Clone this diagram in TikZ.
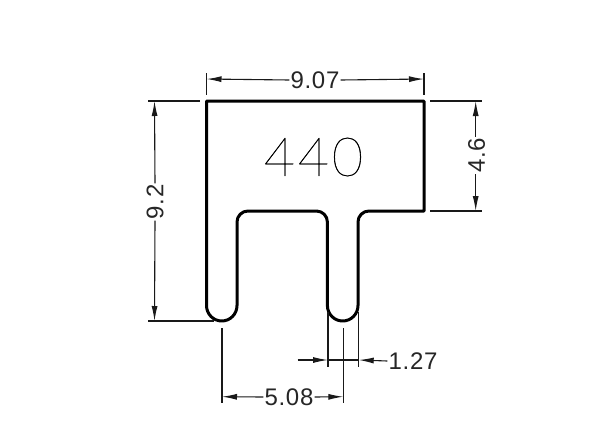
\documentclass[tikz,border=0pt]{standalone}
\usepackage{fontspec}
\setmainfont{Liberation Sans}
\newfontfamily\thinf[LetterSpace=5,FakeBold=0.6]{Lato Hairline}
\usetikzlibrary{arrows.meta}
\tikzset{
  profile/.style={draw=black,line width=3pt,line join=round},
  thinline/.style={draw=black!90,line width=1.1pt},
  dimline/.style={thinline,-{Latex[length=15pt,width=6pt]}},
  dimtext/.style={inner sep=0pt,font=\addfontfeature{LetterSpace=3}\fontsize{24}{26}\selectfont,text=black!85},
  mark440/.style={inner sep=0pt,font=\thinf\fontsize{54}{56}\selectfont,text=black}
}
\begin{document}
\begin{tikzpicture}[x=1pt,y=-1pt]
\useasboundingbox (0,0) rectangle (600,432);
\fill[white] (0,0) rectangle (600,432);
% profile
\draw[profile] (206.5,101) -- (424,101) -- (424,211) -- (369,211)
  arc[start angle=270,end angle=180,radius=11] -- (358,305.5)
  arc[start angle=0,end angle=180,x radius=15.3,y radius=15.5] -- (327.4,222)
  arc[start angle=360,end angle=270,radius=11] -- (248,211)
  arc[start angle=270,end angle=180,radius=11] -- (237,305.5)
  arc[start angle=0,end angle=180,x radius=15.25,y radius=15.5] -- cycle;
\node[mark440] (mark) at (313.5,157) {440};
% extension points
\coordinate (tl) at (206.5,79); \coordinate (tr) at (424,79);
\draw[thinline] (206.5,73) -- (206.5,95);
\draw[thinline] (424,73) -- (424,95);
\node[dimtext] (d907) at (315,80) {9.07};
\draw[dimline] (d907.west) ++(-1,0) -- (tl);
\draw[dimline] (d907.east) ++(1,0) -- (tr);
% left
\draw[thinline] (148,101) -- (200,101);
\draw[thinline] (148,321) -- (214,321);
\coordinate (lt) at (154.5,101); \coordinate (lb) at (154.5,321);
\node[dimtext,rotate=90] (d92) at (155,202) {9.2};
\draw[dimline] (d92.east) ++(0,-1) -- (lt);
\draw[dimline] (d92.west) ++(0,1) -- (lb);
% right
\draw[thinline] (430,101) -- (482,101);
\draw[thinline] (430,211) -- (482,211);
\coordinate (rt) at (475.7,101); \coordinate (rb) at (475.7,211);
\node[dimtext,rotate=90] (d46) at (476.7,155.5) {4.6};
\draw[dimline] (d46.east) ++(-1,-1) -- (rt);
\draw[dimline] (d46.west) ++(-1,1) -- (rb);
% bottom
\draw[thinline] (222,328) -- (222,403);
\draw[thinline] (343.3,328) -- (343.3,403);
\draw[thinline] (328,312) -- (328,367);
\draw[thinline] (358.7,312) -- (358.7,367);
\coordinate (b1) at (222,396.7); \coordinate (b2) at (343.3,396.7);
\node[dimtext] (d508) at (289,397) {5.08};
\draw[dimline] (d508.west) ++(-1,0) -- (b1);
\draw[dimline] (d508.east) ++(1,0) -- (b2);
\coordinate (c0) at (297.7,360); \coordinate (c1) at (328,360);
\coordinate (c2) at (358.7,360);
\node[dimtext] (d127) at (413,361) {1.27};
\draw[dimline] (c0) -- (c1);
\draw[thinline] (c1) -- (c2);
\draw[dimline] (d127.west) ++(-1,0) -- (c2);
\end{tikzpicture}
\end{document}
